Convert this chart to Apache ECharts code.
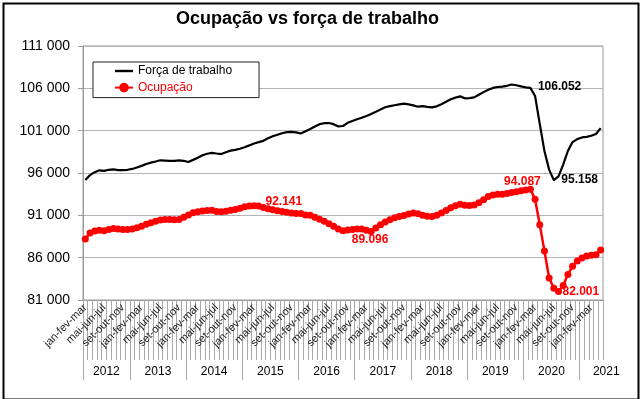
<!DOCTYPE html>
<html><head><meta charset="utf-8">
<script src="https://cdn.jsdelivr.net/npm/echarts@6/dist/echarts.min.js"></script>
<style>html,body{margin:0;padding:0;background:#fff}#c{width:640px;height:399px}</style>
</head><body><div id="c"></div>
<script>
// ---- data ----
const monthNames = ['jan','fev','mar','abr','mai','jun','jul','ago','set','out','nov','dez'];
const yearLabels = ['2012','2013','2014','2015','2016','2017','2018','2019','2020','2021'];
const yearStarts = [0,10,22,34,46,58,70,82,94,106];
const categoryCount = 111;
const yTickValues = [81000, 86000, 91000, 96000, 101000, 106000, 111000];

const forcaTrabalho = [
 95160,95750,96100,96320,96250,96380,96420,96330,96330,96380,
 96480,96650,96840,97060,97230,97360,97500,97470,97430,97430,
 97500,97440,97300,97550,97800,98100,98270,98370,98300,98240,
 98460,98640,98730,98870,99050,99260,99490,99640,99800,100100,
 100340,100520,100700,100830,100850,100800,100660,100940,101200,101500,
 101770,101880,101900,101770,101500,101550,101930,102150,102350,102530,
 102740,102970,103220,103500,103760,103900,104000,104100,104200,104100,
 103980,103830,103900,103820,103760,103870,104130,104420,104700,104900,
 105050,104820,104850,104930,105250,105550,105830,106050,106160,106200,
 106300,106450,106360,106230,106120,106052,105100,101800,98600,96400,
 95158,95600,97000,98600,99650,100000,100200,100260,100400,100600,
 101300
];
const ocupacao = [
 88200,88900,89150,89250,89180,89330,89450,89380,89340,89340,
 89400,89520,89700,89940,90120,90290,90450,90520,90520,90480,
 90520,90780,91050,91300,91420,91500,91570,91600,91450,91420,
 91470,91600,91700,91830,92000,92100,92141,92100,91920,91780,
 91650,91550,91460,91370,91280,91230,91230,91050,91000,90780,
 90550,90300,90000,89700,89400,89180,89260,89340,89400,89400,
 89250,89096,89500,89900,90200,90480,90720,90850,90970,91150,
 91280,91200,91020,90900,90870,91000,91280,91570,91900,92120,
 92300,92200,92150,92220,92500,92850,93220,93400,93500,93500,
 93580,93700,93800,93900,94000,94087,92900,89900,86800,83600,
 82400,82001,82700,84000,85000,85600,85950,86200,86300,86350,
 86900
];

// ---- derived ----
const categories = [];
for (let i = 0; i < categoryCount; i++) {
  const e = (i + 2) % 12;
  categories.push(monthNames[(e + 10) % 12] + '-' + monthNames[(e + 11) % 12] + '-' + monthNames[e]);
}
const yearBounds = yearStarts.concat([categoryCount]);
const yearCenters = yearStarts.map((s, k) => (s + yearBounds[k + 1]) / 2);

const FONT = '"Liberation Sans", Arial, sans-serif';
const fmtBR = v => (v / 1000).toFixed(3);
const fmtSpace = v => String(v).replace(/\B(?=(\d{3})+(?!\d))/g, ' ');

const ocupLabels = {
  36: {position: 'right', distance: 5, offset: [3, -4]},
  61: {position: 'bottom', distance: 0, offset: [-1, -1]},
  95: {position: 'top', distance: 0, offset: [-8, 1.5]},
  101: {position: 'right', distance: 0, offset: [0.5, 0]}
};
const forcaLabels = {
  95: {position: 'right', distance: 7, offset: [0, -1]},
  100: {position: 'right', distance: 7, offset: [0, 0]}
};
const labelBase = {show: true, fontFamily: FONT, fontSize: 12, fontWeight: 'bold', formatter: p => fmtBR(p.value)};

const ocupData = ocupacao.map((v, i) => ocupLabels[i]
  ? {value: v, label: Object.assign({}, labelBase, {color: '#ff0000'}, ocupLabels[i])}
  : v);
const forcaData = forcaTrabalho.map((v, i) => forcaLabels[i]
  ? {value: v, symbol: 'circle', symbolSize: 1, itemStyle: {color: '#000'},
     label: Object.assign({}, labelBase, {color: '#000'}, forcaLabels[i])}
  : v);

const chart = echarts.init(document.getElementById('c'), null, {renderer: 'canvas'});
chart.setOption({
  animation: false,
  backgroundColor: '#fff',
  title: {
    text: 'Ocupação vs força de trabalho',
    left: 176, top: 10, padding: 0,
    textStyle: {fontFamily: FONT, fontSize: 18, fontWeight: 'bold', color: '#000'}
  },
  legend: {
    orient: 'vertical', left: 93, top: 62,
    padding: [2, 27, 3, 21],
    itemWidth: 18, itemHeight: 12, itemGap: 2.6,
    borderColor: '#222', borderWidth: 1, backgroundColor: '#fff',
    textStyle: {fontFamily: FONT, fontSize: 12, lineHeight: 14},
    data: [
      {name: 'Força de trabalho', icon: 'path://M0,0H18V2.4H0Z', textStyle: {color: '#000'}},
      {name: 'Ocupação', textStyle: {color: '#ff0000'}}
    ]
  },
  grid: {left: 83, right: 37, top: 46, bottom: 99, show: true, borderColor: '#9a9a9a', borderWidth: 1, outerBoundsMode: 'none'},
  xAxis: [{
    type: 'category', data: categories, boundaryGap: true, position: 'bottom',
    axisLine: {show: true, lineStyle: {color: '#9a9a9a', width: 1}},
    axisTick: {show: true, interval: 0, length: 60, lineStyle: {color: '#a8a8a8', width: 1}},
    axisLabel: {interval: (i) => i % 4 === 0, rotate: 45, margin: 6, fontFamily: FONT, fontSize: 11, color: '#222'},
    splitLine: {show: false}
  }, {
    type: 'value', min: 0, max: categoryCount, position: 'bottom', offset: 60,
    axisLine: {show: false},
    splitLine: {show: false},
    axisTick: {show: true, customValues: yearStarts, length: 20, lineStyle: {color: '#a8a8a8', width: 1}},
    axisLabel: {
      customValues: yearCenters, margin: 6, fontFamily: FONT, fontSize: 12, color: '#000',
      formatter: (v) => {
        const k = yearCenters.findIndex(c => Math.abs(c - v) < 1e-6);
        if (k < 0) return '';
        return k === yearLabels.length - 1 ? '{r|' + yearLabels[k] + '}' : yearLabels[k];
      },
      rich: {r: {fontFamily: FONT, fontSize: 12, color: '#000', padding: [0, 0, 0, 30]}}
    }
  }],
  yAxis: {
    type: 'value', min: yTickValues[0], max: yTickValues[yTickValues.length - 1], interval: 5000,
    axisLine: {show: true, lineStyle: {color: '#9a9a9a'}},
    axisTick: {show: true, length: 5, lineStyle: {color: '#9a9a9a'}},
    axisLabel: {margin: 13, fontFamily: FONT, fontSize: 14, color: '#000', formatter: fmtSpace},
    splitLine: {show: true, lineStyle: {color: '#b4b4b4', width: 1}}
  },
  series: [{
    name: 'Força de trabalho', type: 'line', xAxisIndex: 0, data: forcaData,
    symbol: 'none', showSymbol: true, showAllSymbol: true,
    lineStyle: {color: '#000', width: 2.2}, itemStyle: {color: '#000'}, z: 3
  }, {
    name: 'Ocupação', type: 'line', xAxisIndex: 0, data: ocupData,
    symbol: 'circle', symbolSize: 7, showSymbol: true, showAllSymbol: true,
    lineStyle: {color: '#ff0000', width: 2.5}, itemStyle: {color: '#ff0000'}, z: 4
  }],
  graphic: [{
    type: 'rect', left: 1, top: 1, z: 100, silent: true,
    shape: {width: 635, height: 396},
    style: {fill: null, stroke: '#000', lineWidth: 2}
  }]
});
</script>
</body></html>
